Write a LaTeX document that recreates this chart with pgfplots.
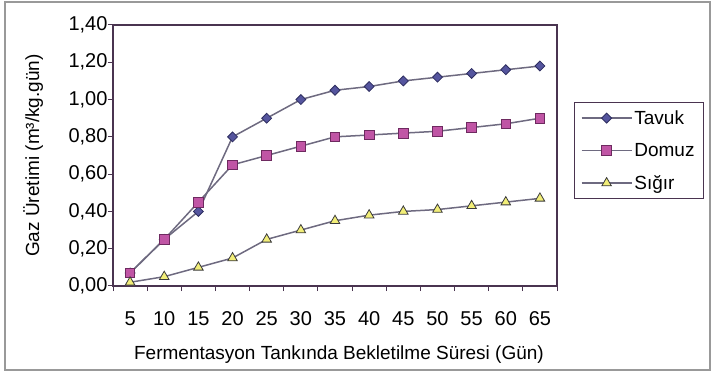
\documentclass[border=0pt]{standalone}
\usepackage{pgfplots}
\pgfplotsset{compat=1.18}
\usepackage{fontspec}
\setmainfont{Liberation Sans}
\definecolor{axc}{HTML}{4A3450}
\definecolor{linec}{HTML}{6E6A80}
\definecolor{tavf}{HTML}{55559E}
\definecolor{tave}{HTML}{2E2E60}
\definecolor{domf}{HTML}{C055A5}
\definecolor{dome}{HTML}{6E2A60}
\definecolor{sigf}{HTML}{F2EE78}
\definecolor{sige}{HTML}{3A3A3A}
\begin{document}
\begin{tikzpicture}[x=1pt,y=1pt]
\useasboundingbox (0,0) rectangle (712,372);
\draw[gray!80, line width=1.5pt] (5,2) rectangle (710,370);
\begin{axis}[
  at={(113pt,86pt)}, anchor=south west,
  width=444pt, height=261pt, scale only axis,
  xmin=2.5, xmax=67.5, ymin=0, ymax=1.4,
  axis line style={axc, line width=1.2pt},
  xtick={5,10,...,65},
  minor xtick={2.5,7.5,...,67.5},
  ytick={0,0.2,...,1.4},
  major x tick style={draw=none},
  tick style={axc, line width=1pt},
  tick align=outside,
  major tick length=5pt, minor tick length=5pt,
  xtick pos=bottom, ytick pos=left,
  font=\fontsize{19}{22}\selectfont,
  tick label style={font=\fontsize{20}{23}\selectfont},
  /pgf/number format/assume math mode=true,
  yticklabel style={xshift=3pt, /pgf/number format/.cd, fixed, fixed zerofill, precision=2, use comma},
  xticklabel style={yshift=-17pt},
  xlabel={Fermentasyon Tankında Bekletilme Süresi (Gün)},
  ylabel={Gaz Üretimi (m³/kg.gün)},
  every axis x label/.style={at={(axis description cs:0.509,-0.264)}, anchor=center},
  every axis y label/.style={at={(axis description cs:-0.18,0.5)}, rotate=90, anchor=center},
  legend style={at={(axis description cs:1.038,0.705)}, anchor=north west,
    draw=axc, line width=1pt, inner xsep=6.5pt, inner ysep=6pt,
    row sep=13.5pt, font=\fontsize{19}{22}\selectfont},
  legend cell align=left,
  legend image code/.code={\draw[#1,line width=1.5pt,mark repeat=2,mark phase=2] plot coordinates {(0pt,0pt) (25pt,0pt) (50pt,0pt)};},
  every axis plot/.append style={line width=1.5pt, color=linec},
]
\addplot[mark=square*, mark size=3.5pt, mark options={rotate=45, fill=tavf, draw=tave, line width=0.8pt}] coordinates {
(5,0.07) (10,0.25) (15,0.40) (20,0.80) (25,0.90) (30,1.00) (35,1.05) (40,1.07) (45,1.10) (50,1.12) (55,1.14) (60,1.16) (65,1.18)};
\addlegendentry{Tavuk}
\addplot[mark=square*, mark size=4.8pt, mark options={fill=domf, draw=dome, line width=0.8pt}] coordinates {
(5,0.07) (10,0.25) (15,0.45) (20,0.65) (25,0.70) (30,0.75) (35,0.80) (40,0.81) (45,0.82) (50,0.83) (55,0.85) (60,0.87) (65,0.90)};
\addlegendentry{Domuz}
\addplot[mark=triangle*, mark size=5.5pt, mark options={fill=sigf, draw=sige, line width=0.8pt}] coordinates {
(5,0.02) (10,0.05) (15,0.10) (20,0.15) (25,0.25) (30,0.30) (35,0.35) (40,0.38) (45,0.40) (50,0.41) (55,0.43) (60,0.45) (65,0.47)};
\addlegendentry{Sığır}
\end{axis}
\end{tikzpicture}
\end{document}
